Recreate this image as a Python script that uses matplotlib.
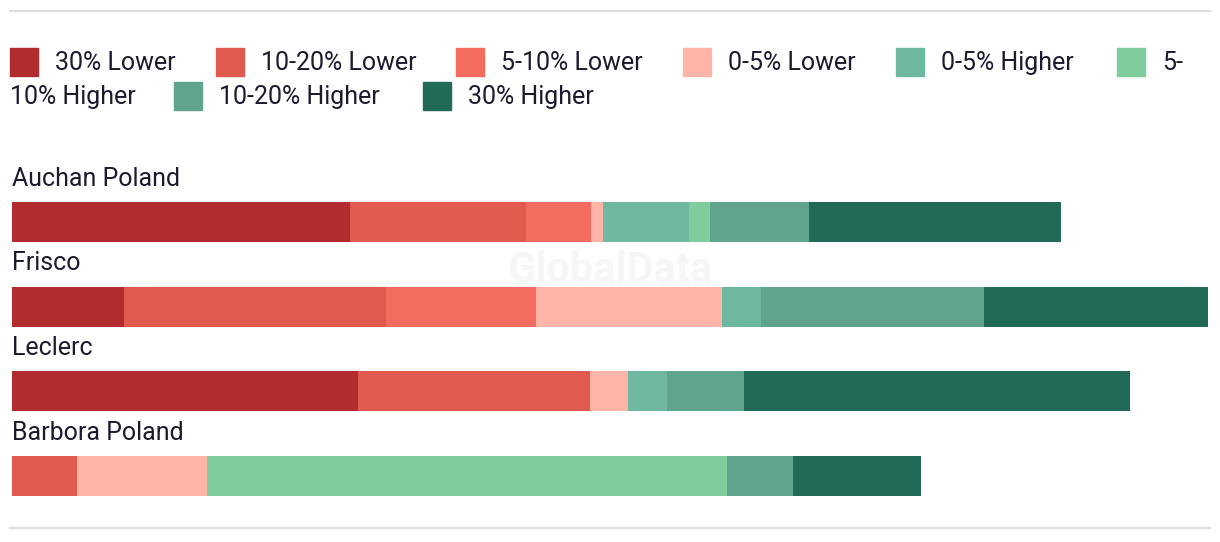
import matplotlib
matplotlib.use('Agg')
import matplotlib.pyplot as plt
import numpy as np
from matplotlib.patches import Rectangle
from matplotlib.lines import Line2D

plt.rcParams['font.family'] = ['Roboto', 'DejaVu Sans']

# Datos
tiendas = ['Auchan Poland', 'Frisco', 'Leclerc', 'Barbora Poland']
categorias = ['30% Lower', '10-20% Lower', '5-10% Lower', '0-5% Lower',
              '0-5% Higher', '5-10% Higher', '10-20% Higher', '30% Higher']
colores = ['#b02c2e', '#e05a4f', '#f46c60', '#feb4a6',
           '#6fb8a0', '#7fcd9c', '#60a48e', '#216a57']

lower_30 = [28.3, 9.4, 28.9, 0.0]
lower_10_20 = [14.7, 21.9, 19.4, 5.4]
lower_5_10 = [5.4, 12.5, 0.0, 0.0]
lower_0_5 = [1.0, 15.6, 3.2, 10.9]
higher_0_5 = [7.2, 3.2, 3.3, 0.0]
higher_5_10 = [1.8, 0.0, 0.0, 43.5]
higher_10_20 = [8.2, 18.7, 6.4, 5.5]
higher_30 = [21.1, 18.7, 32.3, 10.7]

series = [lower_30, lower_10_20, lower_5_10, lower_0_5,
          higher_0_5, higher_5_10, higher_10_20, higher_30]

W, H = 1220, 542
fig = plt.figure(figsize=(W / 100, H / 100), dpi=100)
color_texto = '#1b1b2f'
tam = 18

# lineas grises arriba y abajo
for yy in [11, 528]:
    fig.add_artist(Line2D([10 / W, 1210 / W], [1 - yy / H, 1 - yy / H],
                          color='#dddddd', lw=1.6, transform=fig.transFigure))

# Leyenda (a mano, como en la web)
fila1 = [(10, 0), (216, 1), (456, 2), (683, 3), (896, 4), (1117, 5)]
fila2 = [(174, 6), (423, 7)]
for y_px, fila in [(62, fila1), (96, fila2)]:
    for x_px, k in fila:
        fig.add_artist(Rectangle((x_px / W, 1 - (y_px + 14) / H), 28 / W, 28 / H,
                                 color=colores[k], transform=fig.transFigure))
        txt = categorias[k]
        if k == 5:
            txt = '5-'
        fig.text((x_px + 45) / W, 1 - (y_px + 1) / H, txt, fontsize=tam,
                 color=color_texto, va='center', ha='left')
fig.text(10 / W, 1 - 97 / H, '10% Higher', fontsize=tam,
         color=color_texto, va='center', ha='left')

# Barras
paso = 84.67
top = 222 - 0.5 * paso
bottom = 476 + 0.5 * paso
ax = fig.add_axes([12 / W, 1 - bottom / H, 1196 / W, (bottom - top) / H])
y = np.arange(len(tiendas))
izq = np.zeros(len(tiendas))
for vals, col in zip(series, colores):
    ax.barh(y, vals, left=izq, height=40 / paso, color=col, linewidth=0)
    izq = izq + np.array(vals)
ax.set_xlim(0, 100)
ax.set_ylim(3.5, -0.5)
ax.axis('off')

for i, t in enumerate(tiendas):
    ax.text(0, i - 0.51, t, fontsize=tam, color=color_texto, va='center',
            ha='left', clip_on=False)

# marca de agua
fig.text(610 / W, 1 - 270 / H, 'GlobalData', fontsize=30, fontweight='bold',
         color='#e6e6e6', alpha=0.35, ha='center', va='center', zorder=10)

fig.savefig('out.png', dpi=100)
